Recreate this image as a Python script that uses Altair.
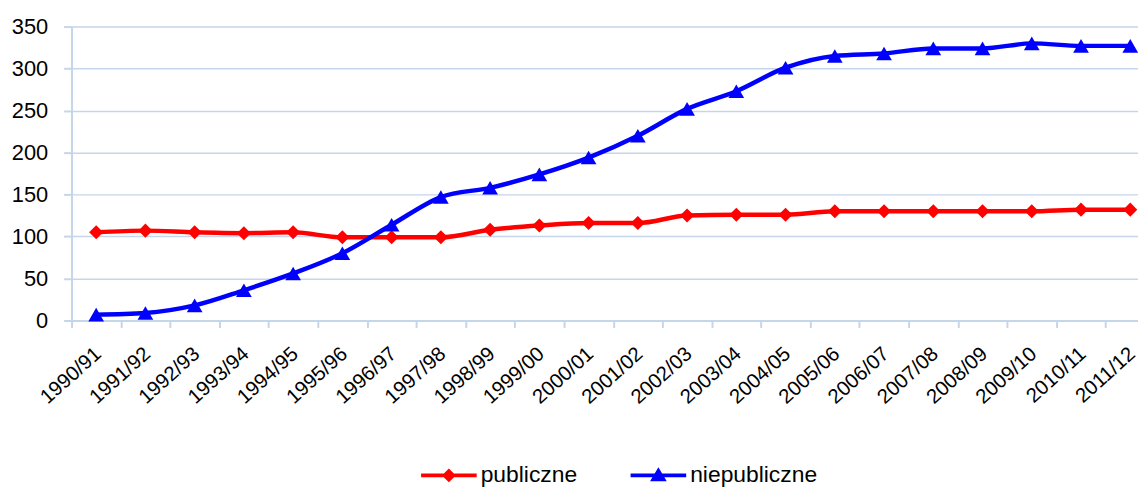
import altair as alt
import pandas as pd

lata = ["1990/91", "1991/92", "1992/93", "1993/94", "1994/95", "1995/96",
        "1996/97", "1997/98", "1998/99", "1999/00", "2000/01", "2001/02",
        "2002/03", "2003/04", "2004/05", "2005/06", "2006/07", "2007/08",
        "2008/09", "2009/10", "2010/11", "2011/12"]
publiczne = [105, 107, 105, 104, 105, 99, 99, 99, 108, 113, 116, 116,
             125, 126, 126, 130, 130, 130, 130, 130, 132, 132]
niepubliczne = [7, 9, 18, 36, 56, 80, 114, 147, 158, 174, 194, 220,
                252, 273, 301, 315, 318, 324, 324, 330, 327, 327]
serie = ["publiczne", "niepubliczne"]
kolory = ["#ff0000", "#0000ff"]

rows = []
for s, vals in zip(serie, [publiczne, niepubliczne]):
    for r, v in zip(lata, vals):
        rows.append({"rok": r, "seria": s, "wartosc": v})
df = pd.DataFrame(rows)

GRID = "#c5d5ea"
FONT = "Liberation Sans"

leg_line = "M-1,-0.07H1V0.07H-1Z"
leg_diamond = "M-0.25,0L0,-0.25L0.25,0L0,0.25Z"
leg_tri = "M-0.3,0.21L0,-0.29L0.3,0.21Z"
leg_shapes = [leg_line + " " + leg_diamond, leg_line + " " + leg_tri]

legend = alt.Legend(
    title=None, orient="none", legendX=352, legendY=424, direction="horizontal",
    symbolSize=3136, labelFontSize=23, labelFont=FONT, labelColor="#000000",
    labelOffset=4, columnPadding=53, symbolStrokeWidth=0, symbolOpacity=1,
)

x = alt.X("rok:O", sort=lata, bandPosition=0.5,
          scale=alt.Scale(type="band", domain=lata, range=[0, 1091],
                          paddingInner=0, paddingOuter=0),
          axis=alt.Axis(title=None, labelAngle=-42, labelAlign="right",
                        labelBaseline="top", labelFontSize=20.5, labelFont=FONT,
                        labelColor="#000000", labelPadding=16, labelOffset=-5,
                        tickBand="extent",
                        tickSize=7, tickColor=GRID, tickWidth=2,
                        domainColor=GRID, domainWidth=2, grid=False,
                        labelOverlap=False))
y = alt.Y("wartosc:Q",
          scale=alt.Scale(domain=[0, 350], nice=False),
          axis=alt.Axis(title=None, values=[0, 50, 100, 150, 200, 250, 300, 350],
                        labelFontSize=22, labelFont=FONT, labelColor="#000000",
                        labelPadding=16, tickSize=8, tickColor=GRID, tickWidth=2,
                        domainColor=GRID, domainWidth=2, gridColor=GRID,
                        gridWidth=1.5))
color_scale = alt.Scale(domain=serie, range=kolory)
color = alt.Color("seria:N", sort=serie, scale=color_scale, legend=legend)

base = alt.Chart(df)

# invisible layer that only carries the legend (line + marker symbols)
legend_layer = base.mark_point(filled=True, opacity=0).encode(
    x=x, y=y, color=color,
    shape=alt.Shape("seria:N", sort=serie,
                    scale=alt.Scale(domain=serie, range=leg_shapes), legend=legend),
)

lines = base.mark_line(strokeWidth=4.5, interpolate="monotone").encode(
    x=x, y=y, color=color, detail="seria:N")

pts_pub = base.transform_filter(alt.datum.seria == "publiczne").mark_point(
    shape="diamond", filled=True, size=200, opacity=1).encode(
    x=x, y=y, color=color)

pts_niepub = base.transform_filter(alt.datum.seria == "niepubliczne").mark_point(
    shape="triangle-up", filled=True, size=250, opacity=1).encode(
    x=x, y=y, color=color)

chart = alt.layer(legend_layer, lines, pts_pub, pts_niepub).properties(
    width=1074, height=296,
    autosize=alt.AutoSizeParams(type="none"),
    padding={"left": 64, "top": 17, "right": 0, "bottom": 168},
    background="#ffffff",
).configure_view(stroke=None)

chart.save("out.html", embed_options={"renderer": "svg", "actions": False})
